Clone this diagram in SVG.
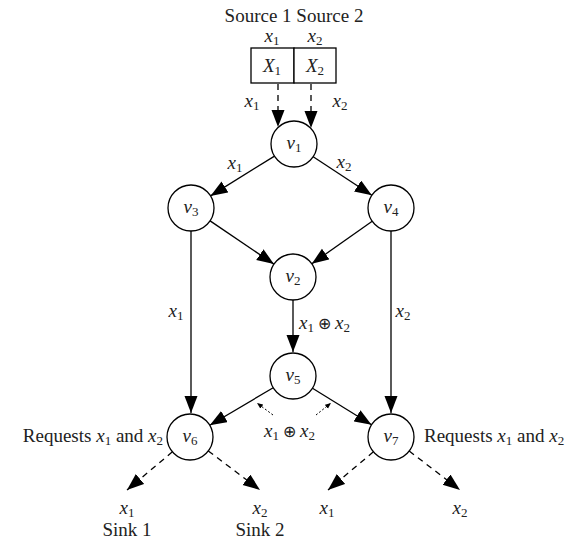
<svg xmlns="http://www.w3.org/2000/svg" width="582" height="540" viewBox="0 0 582 540">
<defs>
<marker id="ah" markerUnits="userSpaceOnUse" markerWidth="18" markerHeight="14" refX="17" refY="6.5" orient="auto"><path d="M0,0 L17,6.5 L0,13 Z" fill="#000"/></marker>
<marker id="sah" markerUnits="userSpaceOnUse" markerWidth="7" markerHeight="6" refX="6" refY="2.5" orient="auto"><path d="M0,0 L6,2.5 L0,5 Z" fill="#000"/></marker>
</defs>
<style>
text{font-family:"Liberation Serif","Times New Roman",serif;font-size:19px;fill:#222}
.m{font-style:italic}
.s{font-size:13px;font-style:normal}
.o{font-style:normal;font-size:16px}
.n circle{fill:#fff;stroke:#000;stroke-width:1.3}
.e{stroke:#000;stroke-width:1.3;fill:none;marker-end:url(#ah)}
.d{stroke-dasharray:6,5}
.dt{stroke:#000;stroke-width:1;stroke-dasharray:2,2;fill:none;marker-end:url(#sah)}
</style>
<g id="source">
<text x="294" y="22" text-anchor="middle">Source 1 Source 2</text>
<rect x="251" y="48" width="43" height="35" fill="#fff" stroke="#000" stroke-width="1.3"/>
<rect x="294" y="48" width="42" height="35" fill="#fff" stroke="#000" stroke-width="1.3"/>
<text x="272" y="72" text-anchor="middle" class="m">X<tspan class="s" dy="3">1</tspan></text>
<text x="315" y="72" text-anchor="middle" class="m">X<tspan class="s" dy="3">2</tspan></text>
<text x="272" y="42" text-anchor="middle" class="m">x<tspan class="s" dy="3">1</tspan></text>
<text x="315" y="42" text-anchor="middle" class="m">x<tspan class="s" dy="3">2</tspan></text>
</g>
<g id="connectors">
<line class="e d" x1="278" y1="84" x2="278" y2="127"/>
<line class="e d" x1="311" y1="84" x2="311" y2="128"/>
<line class="e" x1="274.5" y1="156.1" x2="210.5" y2="195.9"/>
<line class="e" x1="313.2" y1="156.7" x2="371.8" y2="195.3"/>
<line class="e" x1="210.1" y1="220.9" x2="273.9" y2="264.1"/>
<line class="e" x1="372.2" y1="221.2" x2="311.8" y2="263.8"/>
<line class="e" x1="191" y1="231" x2="191" y2="413"/>
<line class="e" x1="391" y1="231" x2="391" y2="413"/>
<line class="e" x1="293" y1="300" x2="293" y2="352"/>
<line class="e" x1="273.2" y1="387.7" x2="209.8" y2="425.3"/>
<line class="e" x1="312.5" y1="388.2" x2="371.5" y2="424.8"/>
<line class="dt" x1="273" y1="415" x2="257" y2="403"/>
<line class="dt" x1="316" y1="415" x2="331" y2="403"/>
<line class="e d" x1="172.4" y1="451.8" x2="127" y2="490"/>
<line class="e d" x1="208.3" y1="450.9" x2="260" y2="490"/>
<line class="e d" x1="373.4" y1="451.8" x2="328" y2="490"/>
<line class="e d" x1="409.2" y1="451" x2="460" y2="490"/>
<text x="252" y="107" text-anchor="middle" class="m">x<tspan class="s" dy="3">1</tspan></text>
<text x="340" y="107" text-anchor="middle" class="m">x<tspan class="s" dy="3">2</tspan></text>
<text x="235" y="169" text-anchor="middle" class="m">x<tspan class="s" dy="3">1</tspan></text>
<text x="344" y="168" text-anchor="middle" class="m">x<tspan class="s" dy="3">2</tspan></text>
<text x="176" y="317" text-anchor="middle" class="m">x<tspan class="s" dy="3">1</tspan></text>
<text x="403" y="317" text-anchor="middle" class="m">x<tspan class="s" dy="3">2</tspan></text>
<text x="299" y="329" class="m">x<tspan class="s" dy="3">1</tspan><tspan class="o" dy="-3"> ⊕ </tspan>x<tspan class="s" dy="3">2</tspan></text>
<text x="264" y="437" class="m">x<tspan class="s" dy="3">1</tspan><tspan class="o" dy="-3"> ⊕ </tspan>x<tspan class="s" dy="3">2</tspan></text>
</g>
<g id="v1" class="n"><circle cx="294" cy="144" r="23"/><text x="294" y="149" text-anchor="middle" class="m">v<tspan class="s" dy="3">1</tspan></text></g>
<g id="v3" class="n"><circle cx="191" cy="208" r="23"/><text x="191" y="213" text-anchor="middle" class="m">v<tspan class="s" dy="3">3</tspan></text></g>
<g id="v4" class="n"><circle cx="391" cy="208" r="23"/><text x="391" y="213" text-anchor="middle" class="m">v<tspan class="s" dy="3">4</tspan></text></g>
<g id="v2" class="n"><circle cx="293" cy="277" r="23"/><text x="293" y="282" text-anchor="middle" class="m">v<tspan class="s" dy="3">2</tspan></text></g>
<g id="v5" class="n"><circle cx="293" cy="376" r="23"/><text x="293" y="381" text-anchor="middle" class="m">v<tspan class="s" dy="3">5</tspan></text></g>
<g id="v6" class="n"><circle cx="190" cy="437" r="23"/><text x="190" y="442" text-anchor="middle" class="m">v<tspan class="s" dy="3">6</tspan></text>
<text x="163" y="442" text-anchor="end">Requests <tspan class="m">x</tspan><tspan class="s" dy="3">1</tspan><tspan dy="-3"> and </tspan><tspan class="m">x</tspan><tspan class="s" dy="3">2</tspan></text></g>
<g id="v7" class="n"><circle cx="391" cy="437" r="23"/><text x="391" y="442" text-anchor="middle" class="m">v<tspan class="s" dy="3">7</tspan></text>
<text x="424" y="442">Requests <tspan class="m">x</tspan><tspan class="s" dy="3">1</tspan><tspan dy="-3"> and </tspan><tspan class="m">x</tspan><tspan class="s" dy="3">2</tspan></text></g>
<g id="sink1"><text x="127" y="514" text-anchor="middle" class="m">x<tspan class="s" dy="3">1</tspan></text><text x="127" y="536" text-anchor="middle">Sink 1</text></g>
<g id="sink2"><text x="260" y="514" text-anchor="middle" class="m">x<tspan class="s" dy="3">2</tspan></text><text x="260" y="536" text-anchor="middle">Sink 2</text></g>
<g id="out1"><text x="327" y="514" text-anchor="middle" class="m">x<tspan class="s" dy="3">1</tspan></text></g>
<g id="out2"><text x="460" y="514" text-anchor="middle" class="m">x<tspan class="s" dy="3">2</tspan></text></g>
</svg>
